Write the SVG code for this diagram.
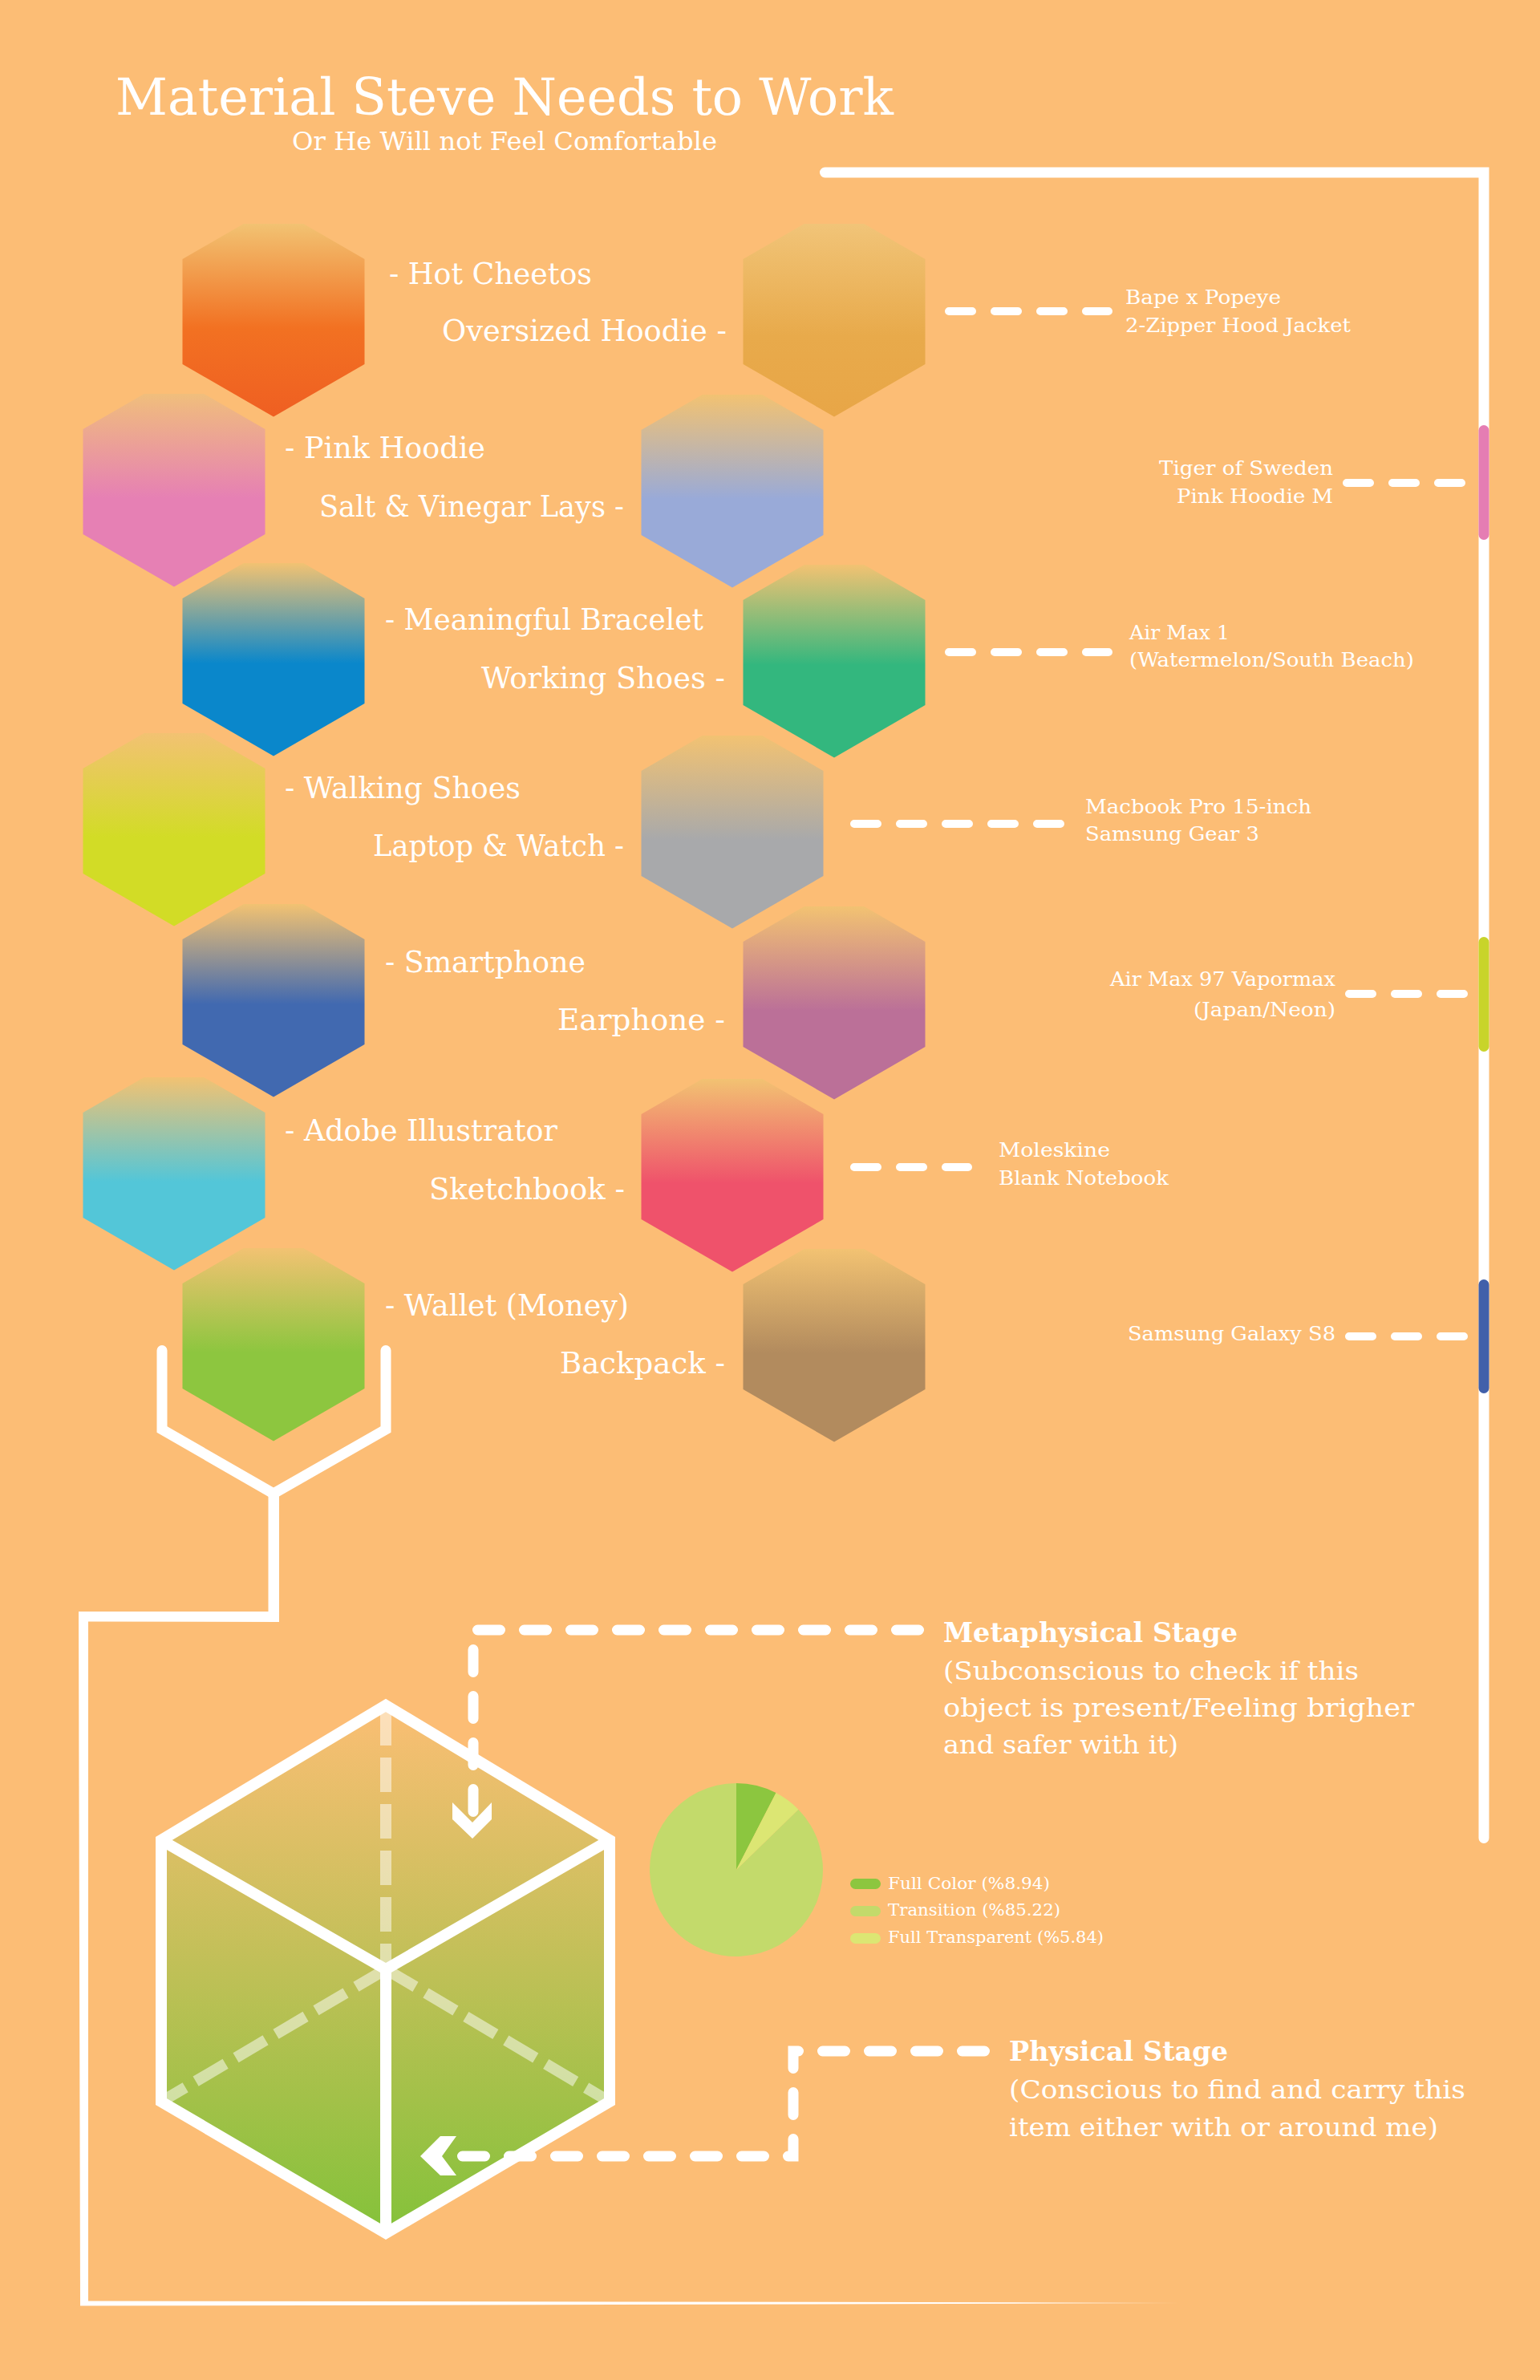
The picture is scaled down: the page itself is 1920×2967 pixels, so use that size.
<svg xmlns="http://www.w3.org/2000/svg" width="1920" height="2967" viewBox="0 0 1920 2967">
<style>
.t{font-family:"DejaVu Serif","Liberation Serif",serif;fill:#fff}
.lbl{font-size:38px}
.note{font-size:25px}
.body{font-size:32px}
.head{font-size:34px;font-weight:bold}
.leg{font-size:21px}
.dash{fill:none;stroke:#fff;stroke-width:10;stroke-linecap:round;stroke-dasharray:29 28}
.cdash{fill:none;stroke:#fff;stroke-width:13;stroke-linecap:round;stroke-dasharray:28 30}
.wl{fill:none;stroke:#fff;stroke-width:13;stroke-linecap:round;stroke-linejoin:miter}
.bar{fill:none;stroke-width:13;stroke-linecap:round}
</style>
<defs>
<linearGradient id="g1" x1="0" y1="0" x2="0" y2="1"><stop offset="0" stop-color="#F2C272"/><stop offset="0.54" stop-color="#F27122"/><stop offset="1" stop-color="#EF5F22"/></linearGradient>
<linearGradient id="g2" x1="0" y1="0" x2="0" y2="1"><stop offset="0" stop-color="#F1C478"/><stop offset="0.58" stop-color="#E8AA4B"/><stop offset="1" stop-color="#E8A647"/></linearGradient>
<linearGradient id="g3" x1="0" y1="0" x2="0" y2="1"><stop offset="0" stop-color="#F0BE7C"/><stop offset="0.54" stop-color="#E680B4"/><stop offset="1" stop-color="#E680B4"/></linearGradient>
<linearGradient id="g4" x1="0" y1="0" x2="0" y2="1"><stop offset="0" stop-color="#F2C272"/><stop offset="0.54" stop-color="#99AAD8"/><stop offset="1" stop-color="#99AAD8"/></linearGradient>
<linearGradient id="g5" x1="0" y1="0" x2="0" y2="1"><stop offset="0" stop-color="#F2C272"/><stop offset="0.52" stop-color="#0A87CB"/><stop offset="1" stop-color="#0A87CB"/></linearGradient>
<linearGradient id="g6" x1="0" y1="0" x2="0" y2="1"><stop offset="0" stop-color="#F2C272"/><stop offset="0.52" stop-color="#33B77E"/><stop offset="1" stop-color="#33B77E"/></linearGradient>
<linearGradient id="g7" x1="0" y1="0" x2="0" y2="1"><stop offset="0" stop-color="#F2C272"/><stop offset="0.54" stop-color="#D2DC26"/><stop offset="1" stop-color="#D2DC26"/></linearGradient>
<linearGradient id="g8" x1="0" y1="0" x2="0" y2="1"><stop offset="0" stop-color="#F2C272"/><stop offset="0.54" stop-color="#A8A9AB"/><stop offset="1" stop-color="#A8A9AB"/></linearGradient>
<linearGradient id="g9" x1="0" y1="0" x2="0" y2="1"><stop offset="0" stop-color="#F2C272"/><stop offset="0.52" stop-color="#4169B0"/><stop offset="1" stop-color="#4169B0"/></linearGradient>
<linearGradient id="g10" x1="0" y1="0" x2="0" y2="1"><stop offset="0" stop-color="#F2C272"/><stop offset="0.54" stop-color="#BB7098"/><stop offset="1" stop-color="#BB7098"/></linearGradient>
<linearGradient id="g11" x1="0" y1="0" x2="0" y2="1"><stop offset="0" stop-color="#F2C272"/><stop offset="0.54" stop-color="#53C6D8"/><stop offset="1" stop-color="#53C6D8"/></linearGradient>
<linearGradient id="g12" x1="0" y1="0" x2="0" y2="1"><stop offset="0" stop-color="#F2C272"/><stop offset="0.54" stop-color="#EF526B"/><stop offset="1" stop-color="#EF526B"/></linearGradient>
<linearGradient id="g13" x1="0" y1="0" x2="0" y2="1"><stop offset="0" stop-color="#F2C272"/><stop offset="0.54" stop-color="#8DC63F"/><stop offset="1" stop-color="#8DC63F"/></linearGradient>
<linearGradient id="g14" x1="0" y1="0" x2="0" y2="1"><stop offset="0" stop-color="#F2C272"/><stop offset="0.54" stop-color="#B28B5E"/><stop offset="1" stop-color="#B28B5E"/></linearGradient>
<linearGradient id="cube" x1="0" y1="0" x2="0" y2="1"><stop offset="0" stop-color="#FBBE74"/><stop offset="1" stop-color="#84C23A"/></linearGradient>
<linearGradient id="fade" x1="0" y1="0" x2="1" y2="0"><stop offset="0" stop-color="#fff"/><stop offset="0.85" stop-color="#fff"/><stop offset="1" stop-color="#fff" stop-opacity="0"/></linearGradient>
</defs>

<rect width="1920" height="2967" fill="#FCBD75"/>

<g id="title">
<text class="t" x="144" y="143" font-size="64" textLength="970" lengthAdjust="spacingAndGlyphs">Material Steve Needs to Work</text>
<text class="t" x="364" y="187" font-size="32" textLength="530" lengthAdjust="spacingAndGlyphs">Or He Will not Feel Comfortable</text>
</g>

<g id="n1"><polygon fill="url(#g1)" points="303.7,279 378.3,279 454.5,323 454.5,454 341,519.5 227.5,454 227.5,323"/><text class="t lbl" x="485" y="354" textLength="253" lengthAdjust="spacingAndGlyphs">- Hot Cheetos</text></g>
<g id="n2"><polygon fill="url(#g2)" points="1002.7,279 1077.3,279 1153.5,323 1153.5,454 1040,519.5 926.5,454 926.5,323"/><text class="t lbl" x="551" y="425" textLength="355" lengthAdjust="spacingAndGlyphs">Oversized Hoodie -</text><text class="t note" x="1403" y="379" textLength="194" lengthAdjust="spacingAndGlyphs">Bape x Popeye</text><text class="t note" x="1403" y="414" textLength="281" lengthAdjust="spacingAndGlyphs">2-Zipper Hood Jacket</text></g>
<g id="n3"><polygon fill="url(#g3)" points="179.7,491 254.3,491 330.5,535 330.5,666 217,731.5 103.5,666 103.5,535"/><text class="t lbl" x="355" y="571" textLength="250" lengthAdjust="spacingAndGlyphs">- Pink Hoodie</text><text class="t note" x="1445" y="592" textLength="217" lengthAdjust="spacingAndGlyphs">Tiger of Sweden</text><text class="t note" x="1467" y="627" textLength="195" lengthAdjust="spacingAndGlyphs">Pink Hoodie M</text></g>
<g id="n4"><polygon fill="url(#g4)" points="875.7,492 950.3,492 1026.5,536 1026.5,667 913,732.5 799.5,667 799.5,536"/><text class="t lbl" x="398" y="644" textLength="380" lengthAdjust="spacingAndGlyphs">Salt &amp; Vinegar Lays -</text></g>
<g id="n5"><polygon fill="url(#g5)" points="303.7,702 378.3,702 454.5,746 454.5,877 341,942.5 227.5,877 227.5,746"/><text class="t lbl" x="480" y="785" textLength="397" lengthAdjust="spacingAndGlyphs">- Meaningful Bracelet</text></g>
<g id="n6"><polygon fill="url(#g6)" points="1002.7,704 1077.3,704 1153.5,748 1153.5,879 1040,944.5 926.5,879 926.5,748"/><text class="t lbl" x="600" y="858" textLength="304" lengthAdjust="spacingAndGlyphs">Working Shoes -</text><text class="t note" x="1408" y="797" textLength="125" lengthAdjust="spacingAndGlyphs">Air Max 1</text><text class="t note" x="1408" y="831" textLength="355" lengthAdjust="spacingAndGlyphs">(Watermelon/South Beach)</text></g>
<g id="n7"><polygon fill="url(#g7)" points="179.7,914 254.3,914 330.5,958 330.5,1089 217,1154.5 103.5,1089 103.5,958"/><text class="t lbl" x="355" y="995" textLength="294" lengthAdjust="spacingAndGlyphs">- Walking Shoes</text></g>
<g id="n8"><polygon fill="url(#g8)" points="875.7,917 950.3,917 1026.5,961 1026.5,1092 913,1157.5 799.5,1092 799.5,961"/><text class="t lbl" x="465" y="1067" textLength="313" lengthAdjust="spacingAndGlyphs">Laptop &amp; Watch -</text><text class="t note" x="1353" y="1014" textLength="282" lengthAdjust="spacingAndGlyphs">Macbook Pro 15-inch</text><text class="t note" x="1353" y="1048" textLength="217" lengthAdjust="spacingAndGlyphs">Samsung Gear 3</text></g>
<g id="n9"><polygon fill="url(#g9)" points="303.7,1127 378.3,1127 454.5,1171 454.5,1302 341,1367.5 227.5,1302 227.5,1171"/><text class="t lbl" x="480" y="1212" textLength="250" lengthAdjust="spacingAndGlyphs">- Smartphone</text></g>
<g id="n10"><polygon fill="url(#g10)" points="1002.7,1130 1077.3,1130 1153.5,1174 1153.5,1305 1040,1370.5 926.5,1305 926.5,1174"/><text class="t lbl" x="695" y="1284" textLength="209" lengthAdjust="spacingAndGlyphs">Earphone -</text><text class="t note" x="1384" y="1229" textLength="281" lengthAdjust="spacingAndGlyphs">Air Max 97 Vapormax</text><text class="t note" x="1488" y="1267" textLength="177" lengthAdjust="spacingAndGlyphs">(Japan/Neon)</text></g>
<g id="n11"><polygon fill="url(#g11)" points="179.7,1343 254.3,1343 330.5,1387 330.5,1518 217,1583.5 103.5,1518 103.5,1387"/><text class="t lbl" x="355" y="1422" textLength="340" lengthAdjust="spacingAndGlyphs">- Adobe Illustrator</text></g>
<g id="n12"><polygon fill="url(#g12)" points="875.7,1345 950.3,1345 1026.5,1389 1026.5,1520 913,1585.5 799.5,1520 799.5,1389"/><text class="t lbl" x="535" y="1495" textLength="244" lengthAdjust="spacingAndGlyphs">Sketchbook -</text><text class="t note" x="1245" y="1442" textLength="139" lengthAdjust="spacingAndGlyphs">Moleskine</text><text class="t note" x="1245" y="1477" textLength="212" lengthAdjust="spacingAndGlyphs">Blank Notebook</text></g>
<g id="n13"><polygon fill="url(#g13)" points="303.7,1556 378.3,1556 454.5,1600 454.5,1731 341,1796.5 227.5,1731 227.5,1600"/><text class="t lbl" x="480" y="1640" textLength="304" lengthAdjust="spacingAndGlyphs">- Wallet (Money)</text></g>
<g id="n14"><polygon fill="url(#g14)" points="1002.7,1557 1077.3,1557 1153.5,1601 1153.5,1732 1040,1797.5 926.5,1732 926.5,1601"/><text class="t lbl" x="698" y="1712" textLength="206" lengthAdjust="spacingAndGlyphs">Backpack -</text><text class="t note" x="1406" y="1671" textLength="259" lengthAdjust="spacingAndGlyphs">Samsung Galaxy S8</text></g>

<g id="cube-node">
<polygon fill="url(#cube)" points="481,2126 760,2294 760,2620 481,2784 201,2620 201,2294"/>
<path d="M481,2133 V2455 M481,2455 L201,2620 M481,2455 L760,2620" fill="none" stroke="#fff" stroke-opacity="0.5" stroke-width="14" stroke-dasharray="43 15"/>
<polygon fill="none" stroke="#fff" stroke-width="14" stroke-linejoin="miter" points="481,2126 760,2294 760,2620 481,2784 201,2620 201,2294"/>
<path d="M201,2294 L481,2455 L760,2294 M481,2455 V2784" fill="none" stroke="#fff" stroke-width="14" stroke-linejoin="miter"/>
</g>

<g id="metaphysical">
<text class="t head" x="1176" y="2047" textLength="367" lengthAdjust="spacingAndGlyphs">Metaphysical Stage</text>
<text class="t body" x="1176" y="2094" textLength="518" lengthAdjust="spacingAndGlyphs">(Subconscious to check if this</text>
<text class="t body" x="1176" y="2140" textLength="587" lengthAdjust="spacingAndGlyphs">object is present/Feeling brigher</text>
<text class="t body" x="1176" y="2186" textLength="293" lengthAdjust="spacingAndGlyphs">and safer with it)</text>
</g>

<g id="pie">
<path fill="#C3DA6B" d="M918,2331 L995.4,2255.7 A108,108 0 1,1 918,2223 Z"/>
<path fill="#8CC63F" d="M918,2331 L918,2223 A108,108 0 0,1 967.5,2235 Z"/>
<path fill="#DCE673" d="M918,2331 L967.5,2235 A108,108 0 0,1 995.4,2255.7 Z"/>
<rect x="1060" y="2342" width="38" height="13" rx="6.5" fill="#8CC63F"/>
<rect x="1060" y="2376" width="38" height="13" rx="6.5" fill="#C3DA6B"/>
<rect x="1060" y="2410" width="38" height="13" rx="6.5" fill="#DCE673"/>
<text class="t leg" x="1107" y="2355" textLength="202" lengthAdjust="spacingAndGlyphs">Full Color (%8.94)</text>
<text class="t leg" x="1107" y="2388" textLength="215" lengthAdjust="spacingAndGlyphs">Transition (%85.22)</text>
<text class="t leg" x="1107" y="2422" textLength="269" lengthAdjust="spacingAndGlyphs">Full Transparent (%5.84)</text>
</g>

<g id="physical">
<text class="t head" x="1258" y="2569" textLength="273" lengthAdjust="spacingAndGlyphs">Physical Stage</text>
<text class="t body" x="1258" y="2616" textLength="569" lengthAdjust="spacingAndGlyphs">(Conscious to find and carry this</text>
<text class="t body" x="1258" y="2663" textLength="535" lengthAdjust="spacingAndGlyphs">item either with or around me)</text>
</g>

<g id="connectors">
<path class="wl" d="M1028.5,215 H1850 V2291.5"/>
<path class="bar" stroke="#E57DB3" d="M1850,536.5 V666.5"/>
<path class="bar" stroke="#C8D42A" d="M1850,1174.5 V1304.5"/>
<path class="bar" stroke="#4160AA" d="M1850,1601.5 V1730.5"/>
<path class="dash" d="M1183,388 H1382"/>
<path class="dash" d="M1679,602 H1822"/>
<path class="dash" d="M1183,813 H1382"/>
<path class="dash" d="M1065,1027 H1323"/>
<path class="dash" d="M1682,1239 H1825"/>
<path class="dash" d="M1065,1455 H1207"/>
<path class="dash" d="M1682,1666 H1825"/>
<path class="wl" d="M202,1683.5 V1782 L341,1862 L481,1782 V1683.5"/>
<path fill="#fff" d="M334.5,1858 L334.5,2009 L98,2009 L100,2869 L110,2869 L110,2021.5 L348,2022 L348,1858 Z"/>
<path fill="url(#fade)" d="M100,2868.4 L1470,2870.6 L1470,2871.4 L100,2874.6 Z"/>
<path class="cdash" d="M1145.5,2032 H590 V2261.5"/>
<polygon fill="#fff" points="564,2247 589,2272 613,2247 613,2268 589,2292 564,2268"/>
<path class="cdash" d="M1227.5,2557 H989 V2688 H574.5"/>
<polygon fill="#fff" points="569,2663 549,2663 524,2688 549,2712 569,2712 551,2688"/>
</g>
</svg>
